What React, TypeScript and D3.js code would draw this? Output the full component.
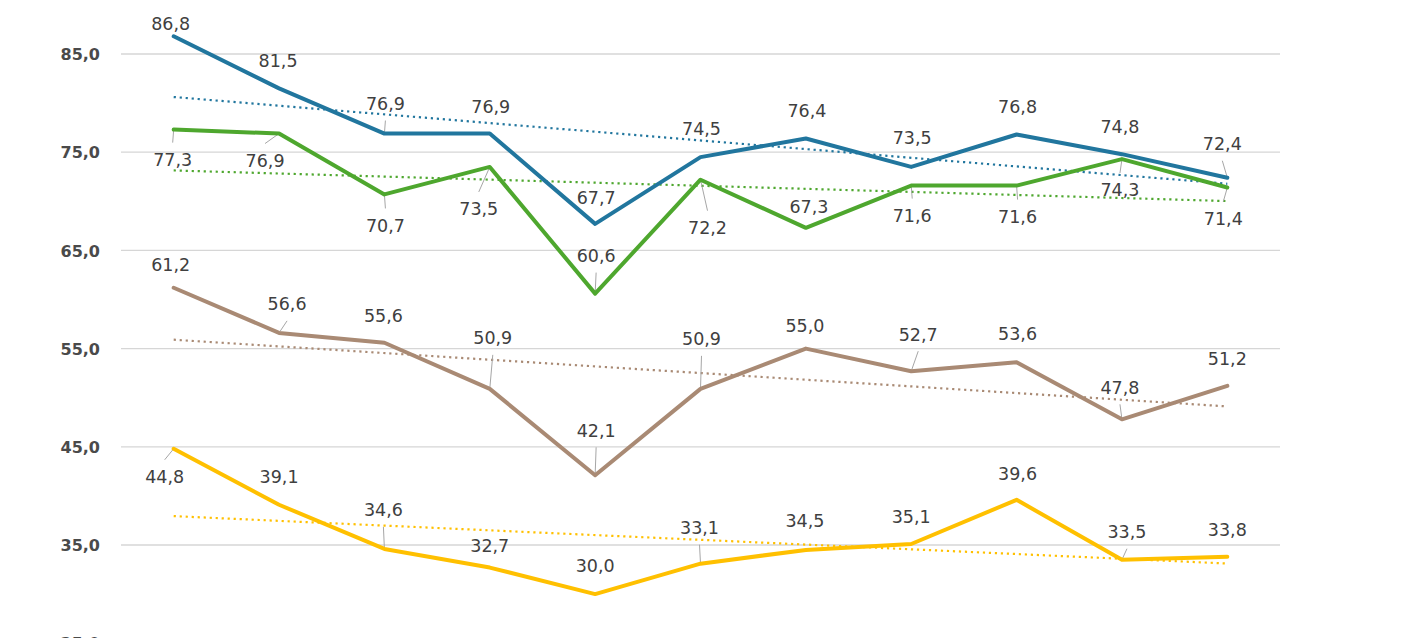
import React, {useEffect, useRef} from 'react';
import * as d3 from 'd3';

// 11 periods, no category labels are visible in the chart
const categories: number[] = [1, 2, 3, 4, 5, 6, 7, 8, 9, 10, 11];

const blueValues: number[] = [86.8, 81.5, 76.9, 76.9, 67.7, 74.5, 76.4, 73.5, 76.8, 74.8, 72.4];
const greenValues: number[] = [77.3, 76.9, 70.7, 73.5, 60.6, 72.2, 67.3, 71.6, 71.6, 74.3, 71.4];
const brownValues: number[] = [61.2, 56.6, 55.6, 50.9, 42.1, 50.9, 55.0, 52.7, 53.6, 47.8, 51.2];
const yellowValues: number[] = [44.8, 39.1, 34.6, 32.7, 30.0, 33.1, 34.5, 35.1, 39.6, 33.5, 33.8];

const yTicks: number[] = [25, 35, 45, 55, 65, 75, 85];

// label placement: [dx, dy, leader line] relative to the point
const blueLabels: number[][] = [
  [-3, -13, 0], [-1, -28, 0], [1, -30, 1], [1, -27, 0], [1, -26, 0], [1, -28, 0],
  [1, -28, 0], [1, -29, 0], [1, -28, 0], [-2, -28, 0], [-5, -34, 1]];
const greenLabels: number[][] = [
  [-1, 30, 1], [-14, 27, 1], [1, 31, 1], [-11, 42, 1], [1, -38, 1], [7, 48, 1],
  [3, -21, 0], [1, 30, 1], [1, 31, 1], [-2, 31, 1], [-4, 31, 1]];
const brownLabels: number[][] = [
  [-3, -23, 0], [8, -29, 1], [-1, -27, 0], [3, -51, 1], [1, -45, 1], [1, -50, 1],
  [-1, -23, 0], [7, -37, 1], [1, -29, 0], [-2, -32, 1], [0, -27, 0]];
const yellowLabels: number[][] = [
  [-9, 28, 1], [0, -28, 0], [-1, -39, 1], [0, -22, 0], [0, -28, 0], [-1, -36, 1],
  [-1, -29, 0], [0, -27, 0], [1, -26, 0], [5, -28, 1], [0, -27, 0]];

const series = [
  {values: blueValues, labels: blueLabels, color: '#21769e'},
  {values: greenValues, labels: greenLabels, color: '#4ea72e'},
  {values: brownValues, labels: brownLabels, color: '#a98a74'},
  {values: yellowValues, labels: yellowLabels, color: '#ffc000'},
];

const fmt = (v: number) => d3.format('.1f')(v).replace('.', ',');

// least squares trend over the category index
const trend = (vals: number[]) => {
  const n = vals.length;
  const mx = d3.mean(vals, (_, i) => i) as number;
  const my = d3.mean(vals) as number;
  let num = 0, den = 0;
  vals.forEach((v, i) => { num += (i - mx) * (v - my); den += (i - mx) * (i - mx); });
  const slope = num / den;
  return [0, n - 1].map(i => [i, my + slope * (i - mx)]);
};

const App = () => {
  const refObject: any = useRef();
  const width = 1417;
  const height = 638;
  const font = '"DejaVu Sans", Verdana, sans-serif';
  const fs = 17.5;

  useEffect(() => {
    const svg = d3.select(refObject.current);
    svg.selectAll('*').remove();

    const x = d3.scaleBand<number>()
      .domain(categories.map((_, i) => i))
      .range([121, 1280]);
    const px = (i: number) => (x(i) as number) + x.bandwidth() / 2;

    const y = d3.scaleLinear().domain([25, 85]).range([643.2, 54]);

    // grid
    svg.append('g').selectAll('line')
      .data(yTicks)
      .join('line')
      .attr('x1', 121).attr('x2', 1280)
      .attr('y1', d => y(d)).attr('y2', d => y(d))
      .attr('stroke', '#d6d6d6').attr('stroke-width', 1.3);

    const yAxis = d3.axisLeft(y).tickValues(yTicks).tickSize(0).tickPadding(0)
      .tickFormat(d => fmt(d as number));
    svg.append('g')
      .attr('transform', 'translate(100,0)')
      .call(yAxis)
      .call(g => g.select('.domain').remove())
      .call(g => g.selectAll('text')
        .attr('font-family', font)
        .attr('font-size', 16)
        .attr('font-weight', 'bold')
        .attr('fill', '#4a4a4a')
        .attr('dy', '0.36em'));

    const line = d3.line<number>()
      .x((_, i) => px(i))
      .y(d => y(d));

    const trendLine = d3.line<number[]>()
      .x(d => px(d[0]))
      .y(d => y(d[1]));

    // trend lines
    series.forEach(s => {
      svg.append('path')
        .datum(trend(s.values))
        .attr('fill', 'none')
        .attr('stroke', s.color)
        .attr('stroke-width', 2.2)
        .attr('stroke-dasharray', '2.2 3.8')
        .attr('d', trendLine);
    });

    // leader lines
    series.forEach(s => {
      s.values.forEach((v, i) => {
        const [dx, dy, leader] = s.labels[i];
        if (!leader) return;
        const sx = px(i), sy = y(v);
        const lx = sx + dx, ly = sy + dy;
        const ey = dy > 0 ? ly - 17 : ly + 17;
        svg.append('line')
          .attr('x1', sx).attr('y1', sy)
          .attr('x2', lx).attr('y2', ey)
          .attr('stroke', '#a6a6a6').attr('stroke-width', 1);
      });
    });

    // series lines
    series.forEach(s => {
      svg.append('path')
        .datum(s.values)
        .attr('fill', 'none')
        .attr('stroke', s.color)
        .attr('stroke-width', 4)
        .attr('stroke-linejoin', 'round')
        .attr('stroke-linecap', 'round')
        .attr('d', line);
    });

    // data labels
    series.forEach(s => {
      svg.append('g').selectAll('text')
        .data(s.values)
        .join('text')
        .attr('x', (_, i) => px(i) + s.labels[i][0])
        .attr('y', (d, i) => y(d) + s.labels[i][1] + fs * 0.365)
        .attr('text-anchor', 'middle')
        .attr('font-family', font)
        .attr('font-size', fs)
        .attr('fill', '#404040')
        .text(d => fmt(d));
    });
  }, []);

  return (
    <svg ref={refObject} width={width} height={height}
         style={{position: 'absolute', left: 0, top: 0, background: '#fff'}}/>
  );
};

export default App;
